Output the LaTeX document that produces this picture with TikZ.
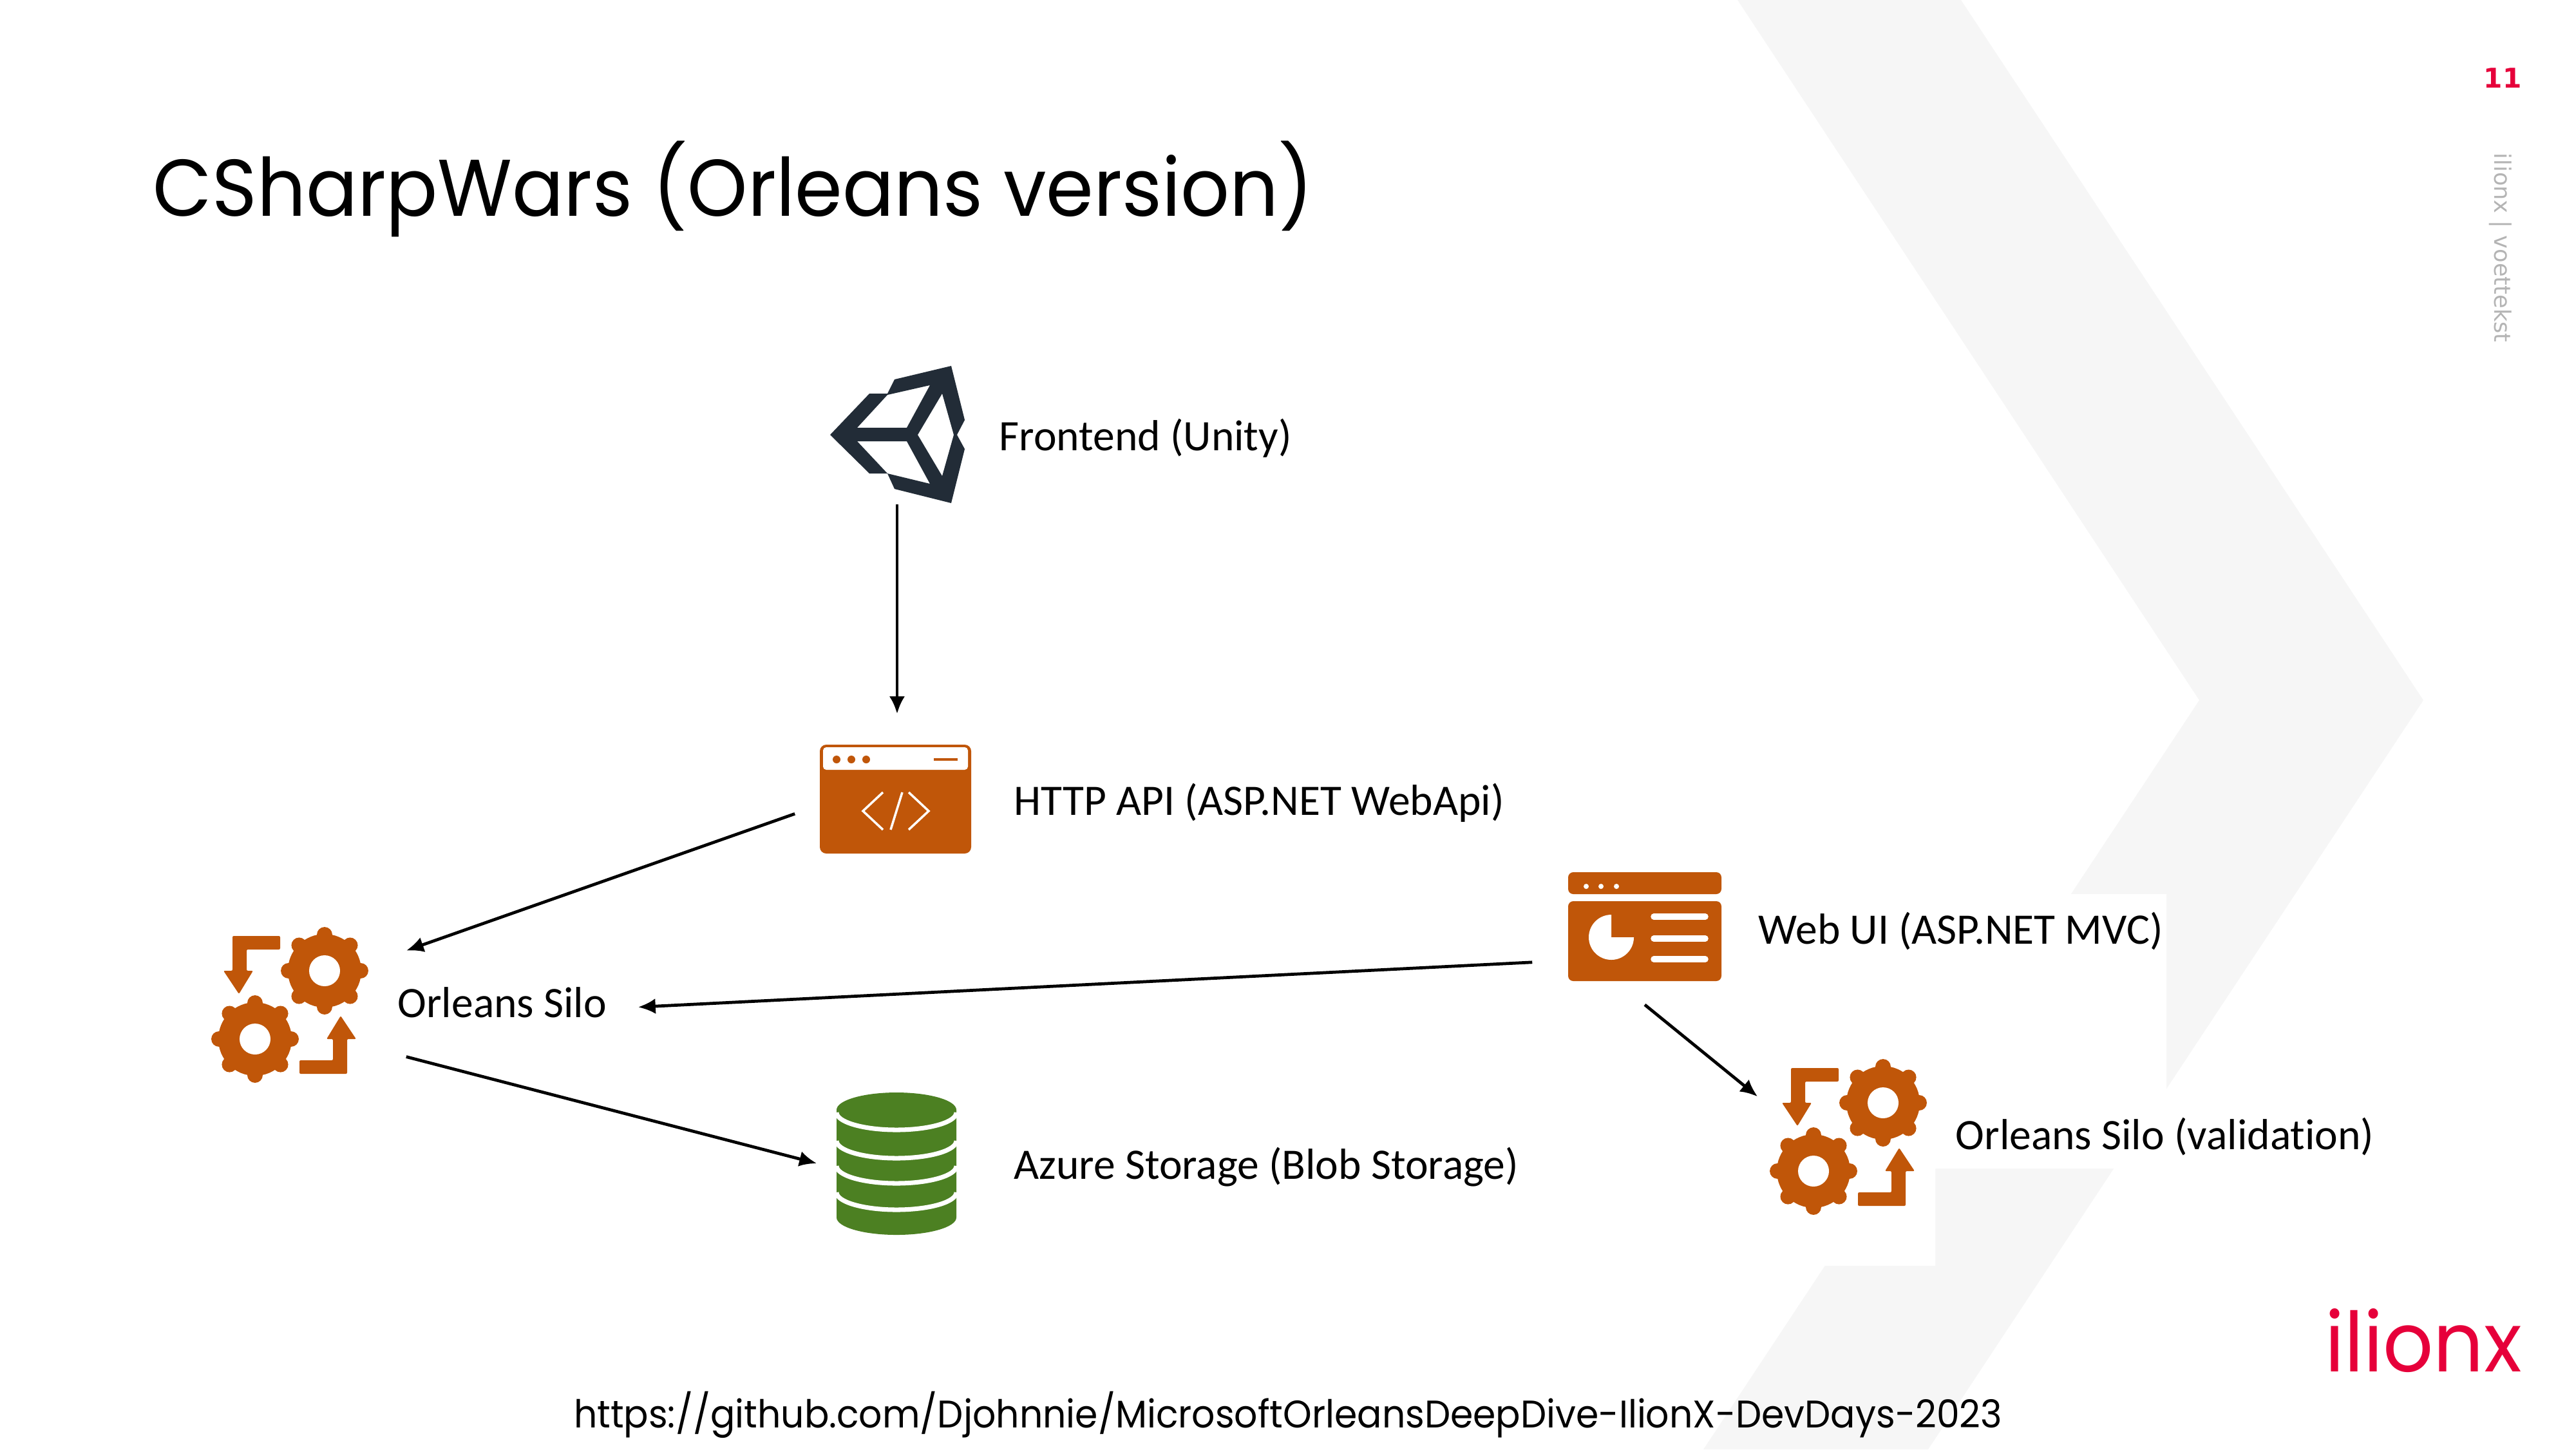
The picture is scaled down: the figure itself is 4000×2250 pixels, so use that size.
\documentclass[tikz,border=0pt]{standalone}
\usepackage{fontspec}
\setmainfont[Ligatures=NoCommon]{Carlito}
\newfontfamily\slidefont[FakeStretch=0.951]{Poppins}
\newfontfamily\notefont{DejaVu Sans}
\usetikzlibrary{arrows.meta,positioning}
\definecolor{Roest}{HTML}{C05609}
\definecolor{Groen}{HTML}{4C8022}
\definecolor{Unity}{HTML}{222C37}
\definecolor{Merk}{HTML}{E6003A}
\definecolor{Vlak}{HTML}{F6F6F6}
\definecolor{Voet}{HTML}{B4B4B4}
\tikzset{
  lbl/.style={anchor=base west,inner sep=0pt,font=\fontsize{19.2}{23}\selectfont},
  slot/.style={inner sep=0pt,draw=none},
  flow/.style={-{Latex[length=0.27cm,width=0.24cm]},line width=1.35pt,black},
  silopic/.pic={
    \foreach \r in {0,180}{
      \begin{scope}[rotate=\r]
        \fill[Roest] (54,-53) circle (57);
        \foreach \a in {0,45,...,315}
          \draw[Roest,line width=6.8pt,line cap=round] (54,-53) ++(\a:45) -- ++(\a:11);
        \fill[white] (54,-53) circle (24);
        \fill[Roest,rounded corners=0.02cm] (-15,-107) -- (-89,-107) -- (-89,-53) -- (-103,-53)
          -- (-79,-17) -- (-57,-53) -- (-67,-53) -- (-67,-86) -- (-15,-86) -- cycle;
      \end{scope}
    }
  }
}
\begin{document}
\begin{tikzpicture}[x=0.01cm,y=-0.01cm]
  \useasboundingbox (0,0) rectangle (4000,2250);
  % achtergrond
  \fill[Vlak] (2698,0) -- (3045,0) -- (3763,1087) -- (2994,2250) -- (2645,2250) -- (3415,1087) -- cycle;
  \fill[white] (2600,1388) -- (3364,1388) -- (3364,1814) -- (3005,1814) -- (3005,1965) -- (2600,1965) -- cycle;
  % kop en voet
  \node[slot,anchor=base west] (title) at (237,335) {\slidefont\fontsize{35.5}{43}\selectfont CSharpWars (Orleans version)};
  \node[slot,anchor=base] (source) at (2000,2216) {\slidefont\fontsize{17}{20}\selectfont https://github.com/Djohnnie/MicrosoftOrleansDeepDive-IlionX-DevDays-2023};
  \node[slot,anchor=base,text=Merk] (page) at (3886,136) {\notefont\bfseries\fontsize{12}{14}\selectfont 11};
  \node[slot,anchor=west,rotate=-90,text=Voet] (footer) at (3883,237) {\notefont\fontsize{10}{12}\selectfont ilionx | voettekst};
  \node[slot,anchor=base,text=Merk] (logo) at (3763,2129) {\slidefont\fontsize{36.6}{44}\selectfont ilionx};
  % plekken van de iconen
  \node[slot,minimum width=2.1cm,minimum height=2.15cm] (frontend) at (1393,675) {};
  \node[slot,minimum width=3.16cm,minimum height=2.64cm] (api) at (1393,1241) {};
  \node[slot,minimum width=3.6cm,minimum height=3.6cm] (silo) at (450,1560) {};
  \node[slot,minimum width=2.46cm,minimum height=2.2cm] (storage) at (1392,1806) {};
  \node[slot,minimum width=3.48cm,minimum height=2.44cm] (webui) at (2554,1437) {};
  \node[slot,minimum width=2.8cm,minimum height=2.8cm] (check) at (2870,1765) {};
  % unity
  \fill[Unity,even odd rule] (1289,675) -- (1350,611) -- (1378,611) -- (1389,589) -- (1477,568)
    -- (1498,652) -- (1486,675) -- (1498,697) -- (1477,781) -- (1389,759) -- (1378,735) -- (1350,735) -- cycle
    (1331,664) -- (1408,664) -- (1444,598) -- (1378,613) -- cycle
    (1331,685) -- (1408,685) -- (1444,751) -- (1378,735) -- cycle
    (1463,611) -- (1425,675) -- (1463,739) -- (1481,675) -- cycle;
  % http api
  \fill[Roest,rounded corners=0.1cm] (1273,1156) rectangle (1508,1325);
  \fill[white,rounded corners=0.05cm] (1278,1160) -- (1503,1160) -- (1503,1195) -- (1278,1195) -- cycle;
  \foreach \x in {1299,1322,1345}
    \fill[Roest] (\x,1179) circle (6);
  \draw[Roest,line width=1pt] (1450,1179) -- (1487,1179);
  \draw[white,line width=1pt] (1371,1230) -- (1340,1259) -- (1371,1288);
  \draw[white,line width=1pt] (1401,1230) -- (1383,1288);
  \draw[white,line width=1pt] (1411,1230) -- (1442,1259) -- (1411,1288);
  % web ui
  \fill[Roest,rounded corners=0.08cm] (2435,1388) -- (2435,1354) -- (2673,1354) -- (2673,1388) -- cycle;
  \fill[Roest,rounded corners=0.08cm] (2435,1399) -- (2673,1399) -- (2673,1523) -- (2435,1523) -- cycle;
  \foreach \x in {2463,2486,2510}
    \fill[white] (\x,1376) circle (4);
  \fill[white] (2502,1455) -- (2537,1455) arc[start angle=0,end angle=270,radius=35] -- cycle;
  \foreach \y in {1423,1457,1489}
    \draw[white,line width=2.7pt,line cap=round] (2568,\y) -- (2648,\y);
  % opslag
  \fill[Groen] (1392,1723) ellipse (93 and 27);
  \fill[Groen] (1299,1723) -- (1485,1723) -- (1485,1890) arc[start angle=0,end angle=180,x radius=93,y radius=27] -- cycle;
  \foreach \y in {1727,1771,1810,1851}
    \draw[white,line width=2pt] (1299,\y) arc[start angle=180,end angle=0,x radius=93,y radius=27];
  % silos
  \pic at (450,1560) {silopic};
  \pic at (2870,1765) {silopic};
  % teksten
  \node[lbl] (frontendname) at (1551,699) {Frontend (Unity)};
  \node[lbl] (apiname) at (1574,1265) {HTTP API (ASP.NET WebApi)};
  \node[lbl] (siloname) at (617,1579) {Orleans Silo};
  \node[lbl] (storagename) at (1574,1830) {Azure Storage (Blob Storage)};
  \node[lbl] (webuiname) at (2730,1465) {Web UI (ASP.NET MVC)};
  \node[lbl] (checkname) at (3036,1784) {Orleans Silo (validation)};
  % pijlen
  \draw[flow] (frontend.south) -- (api.north);
  \draw[flow] (api.188.6) -- (silo.25.3);
  \draw[flow] (silo.-24.2) -- (storage.west);
  \draw[flow,shorten >=0.48cm] (webui.198.4) -- ([yshift=-0.1cm]siloname.east);
  \draw[flow] (webui.south) -- (check.156.5);
\end{tikzpicture}
\end{document}
